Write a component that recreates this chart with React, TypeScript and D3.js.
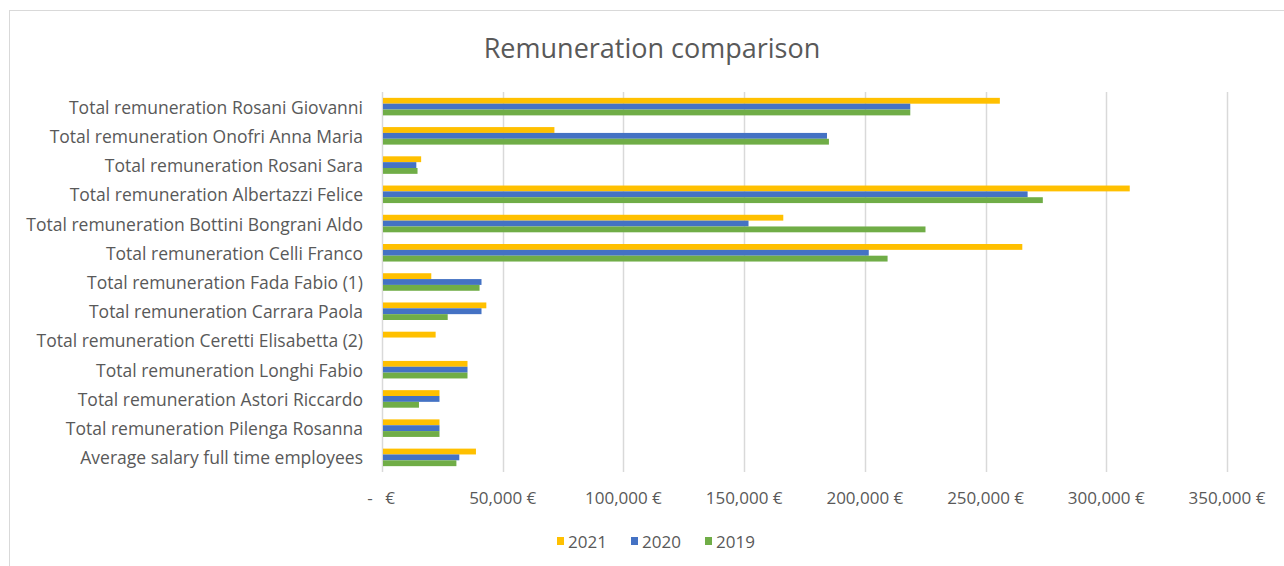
import React from "react";
import * as d3 from "d3";

const categories = [
  "Total remuneration Rosani Giovanni",
  "Total remuneration Onofri Anna Maria",
  "Total remuneration Rosani Sara",
  "Total remuneration Albertazzi Felice",
  "Total remuneration Bottini Bongrani Aldo",
  "Total remuneration Celli Franco",
  "Total remuneration Fada Fabio (1)",
  "Total remuneration Carrara Paola",
  "Total remuneration Ceretti Elisabetta (2)",
  "Total remuneration Longhi Fabio",
  "Total remuneration Astori Riccardo",
  "Total remuneration Pilenga Rosanna",
  "Average salary full time employees",
];

const seriesNames = ["2021", "2020", "2019"];
const seriesColors = ["#FFC000", "#4472C4", "#70AD47"];

const values2021 = [255500, 71000, 15800, 309300, 165800, 264800, 20000, 42800, 21800, 35000, 23400, 23400, 38500];
const values2020 = [218400, 183900, 13800, 267000, 151400, 201200, 40800, 40800, 0, 35000, 23400, 23400, 31600];
const values2019 = [218400, 184700, 14300, 273300, 224700, 209000, 40000, 26800, 0, 35000, 14900, 23400, 30400];

const ticks = [0, 50000, 100000, 150000, 200000, 250000, 300000, 350000];

const W = 1284;
const H = 566;
const font = "'Open Sans', 'Liberation Sans', sans-serif";
const textColor = "#595959";
const gridColor = "#d9d9d9";

export default function App() {
  const series = [values2021, values2020, values2019];

  const x = d3.scaleLinear().domain([0, 350000]).range([382, 1227]);
  const y = d3.scaleBand<string>().domain(categories).range([92, 472]).paddingInner(0.4).paddingOuter(0.2);
  const ys = d3.scaleBand<string>().domain(seriesNames).range([0, y.bandwidth()]);
  const fmt = d3.format(",d");

  return (
    <svg width={W} height={H} style={{ position: "absolute", left: 0, top: 0 }} fontFamily={font}>
      <rect x={9.5} y={10.5} width={W + 10} height={H + 10} fill="#fff" stroke={gridColor} />
      <text x={652} y={47} textAnchor="middle" dominantBaseline="central" fontSize={27} fill={textColor}>
        Remuneration comparison
      </text>

      {ticks.map((t) => (
        <line key={t} x1={Math.round(x(t)) + 0.5} x2={Math.round(x(t)) + 0.5} y1={92} y2={472} stroke={gridColor} strokeWidth={1.5} />
      ))}

      {series.map((vals, si) =>
        categories.map((c, ci) => (
          <rect
            key={c + si}
            x={x(0) + 1}
            y={(y(c) as number) + (ys(seriesNames[si]) as number)}
            width={Math.max(0, x(vals[ci]) - x(0))}
            height={ys.bandwidth()}
            fill={seriesColors[si]}
          />
        ))
      )}

      {categories.map((c) => (
        <text key={c} x={363} y={(y(c) as number) + y.bandwidth() / 2} textAnchor="end" dominantBaseline="central" fontSize={17.5} fill={textColor}>
          {c}
        </text>
      ))}

      {ticks.map((t) =>
        t === 0 ? (
          <g key={t} fontSize={17} fill={textColor}>
            <text x={x(t) - 12} y={497} textAnchor="middle" dominantBaseline="central">-</text>
            <text x={x(t) + 8} y={497} textAnchor="middle" dominantBaseline="central">€</text>
          </g>
        ) : (
          <text key={t} x={x(t)} y={497} textAnchor="middle" dominantBaseline="central" fontSize={17} fill={textColor}>
            {fmt(t) + " €"}
          </text>
        )
      )}

      {seriesNames.map((s, i) => (
        <g key={s} transform={`translate(${557 + i * 74},541)`}>
          <rect x={0} y={-4} width={7} height={8} fill={seriesColors[i]} />
          <text x={11} y={0} dominantBaseline="central" fontSize={17} fill={textColor}>{s}</text>
        </g>
      ))}
    </svg>
  );
}
